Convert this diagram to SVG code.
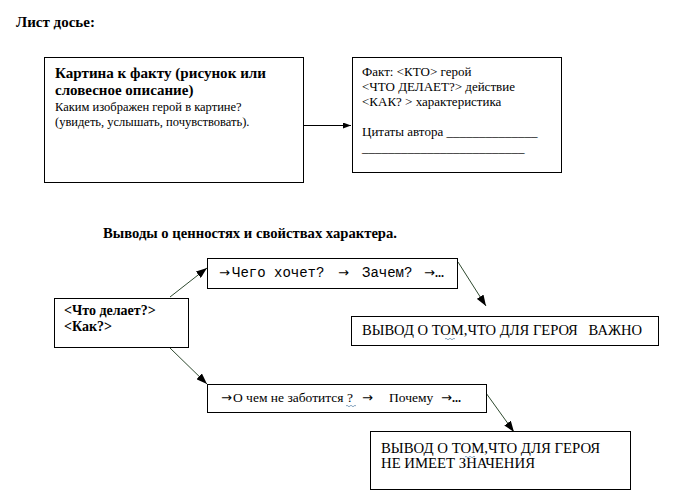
<svg xmlns="http://www.w3.org/2000/svg" width="700" height="503" viewBox="0 0 700 503">
<style>
.box{fill:#fff;stroke:#000;stroke-width:1}
.t{font-family:"Liberation Serif","Times New Roman",serif;fill:#000}
.b{font-weight:bold}
.m{font-family:"Liberation Mono","Courier New",monospace}
.ar{font-family:"DejaVu Sans",sans-serif;font-size:13px}
.con{stroke:#2f4a2f;stroke-width:1;fill:none}
.wavy{stroke:#6a8fb0;stroke-width:0.8;fill:none}
</style>
<defs>
<marker id="ahS" markerUnits="userSpaceOnUse" markerWidth="8" markerHeight="6" refX="8" refY="3" orient="auto"><path d="M0,0 L8,3 L0,6 z" fill="#000"/></marker>
<marker id="ahL" markerUnits="userSpaceOnUse" markerWidth="11" markerHeight="8" refX="11" refY="4" orient="auto"><path d="M0,0 L11,4 L0,8 z" fill="#000"/></marker>
</defs>
<rect width="700" height="503" fill="#fff"/>
<text class="t b" x="16" y="27" font-size="15">Лист досье:</text>
<text class="t b" x="103" y="238" font-size="15" textLength="294" lengthAdjust="spacingAndGlyphs">Выводы о ценностях и свойствах характера.</text>

<g id="connectors">
<line x1="303" y1="125.5" x2="351" y2="125.5" stroke="#000" stroke-width="1" marker-end="url(#ahS)"/>
<line class="con" x1="170" y1="297" x2="207" y2="268" marker-end="url(#ahL)"/>
<line class="con" x1="170" y1="348" x2="207" y2="384" marker-end="url(#ahL)"/>
<line class="con" x1="458" y1="262" x2="486" y2="306" marker-end="url(#ahL)"/>
<line class="con" x1="486" y1="393" x2="514" y2="432" marker-end="url(#ahL)"/>
</g>

<g id="node-picture">
<rect class="box" x="44.5" y="57.5" width="259" height="125"/>
<text class="t b" font-size="15"><tspan x="55" y="78" textLength="211" lengthAdjust="spacingAndGlyphs">Картина к факту (рисунок или</tspan><tspan x="55" y="95">словесное описание)</tspan></text>
<text class="t" font-size="12.5"><tspan x="55" y="111">Каким изображен герой в картине?</tspan><tspan x="55" y="126">(увидеть, услышать, почувствовать).</tspan></text>
</g>

<g id="node-fact">
<rect class="box" x="352.5" y="57.5" width="209" height="115"/>
<text class="t" font-size="13"><tspan x="362" y="76">Факт: &lt;КТО&gt; герой</tspan><tspan x="362" y="91">&lt;ЧТО ДЕЛАЕТ?&gt; действие</tspan><tspan x="362" y="106">&lt;КАК? &gt;  характеристика</tspan><tspan x="362" y="136">Цитаты автора ______________</tspan><tspan x="362" y="152">_________________________</tspan></text>
</g>

<g id="node-does">
<rect class="box" x="54.5" y="298.5" width="134" height="49"/>
<text class="t b" font-size="14"><tspan x="64" y="315">&lt;Что делает?&gt;</tspan><tspan x="64" y="331">&lt;Как?&gt;</tspan></text>
</g>

<g id="node-wants">
<rect class="box" x="207.5" y="258.5" width="250" height="30"/>
<text class="t" y="277"><tspan class="ar" x="219">→</tspan><tspan class="m" font-size="14" x="232">Чего хочет?</tspan><tspan class="ar" x="338">→</tspan><tspan class="m" font-size="14" x="362">Зачем?</tspan><tspan class="ar" x="424">→</tspan><tspan class="b" font-size="12">...</tspan></text>
</g>

<g id="node-important">
<rect class="box" x="351.5" y="316.5" width="307" height="29"/>
<text class="t" font-size="14" x="362" y="335" xml:space="preserve" textLength="280" lengthAdjust="spacingAndGlyphs">ВЫВОД О ТОМ,ЧТО ДЛЯ ГЕРОЯ   ВАЖНО</text>
<path class="wavy" d="M445,339 q1,-1.5 2,0 t2,0 t2,0 t2,0 t2,0"/>
</g>

<g id="node-notcare">
<rect class="box" x="207.5" y="384.5" width="279" height="28"/>
<text class="t" y="402" font-size="13.5"><tspan class="ar" x="221">→</tspan><tspan x="233">О чем не заботится ?</tspan><tspan class="ar" x="362">→</tspan><tspan x="389">Почему</tspan><tspan class="ar" x="441">→</tspan><tspan class="b" font-size="12">...</tspan></text>
<path class="wavy" d="M346,406 q1,-1.5 2,0 t2,0 t2,0 t2,0 t2,0"/>
</g>

<g id="node-nomatter">
<rect class="box" x="370.5" y="431.5" width="260" height="58"/>
<text class="t" font-size="14"><tspan x="381" y="453" textLength="219" lengthAdjust="spacingAndGlyphs">ВЫВОД О ТОМ,ЧТО ДЛЯ ГЕРОЯ</tspan><tspan x="381" y="468" textLength="154" lengthAdjust="spacingAndGlyphs">НЕ ИМЕЕТ ЗНАЧЕНИЯ</tspan></text>
<path class="wavy" d="M465,457 q1,-1.5 2,0 t2,0 t2,0 t2,0 t2,0"/>
</g>
</svg>
